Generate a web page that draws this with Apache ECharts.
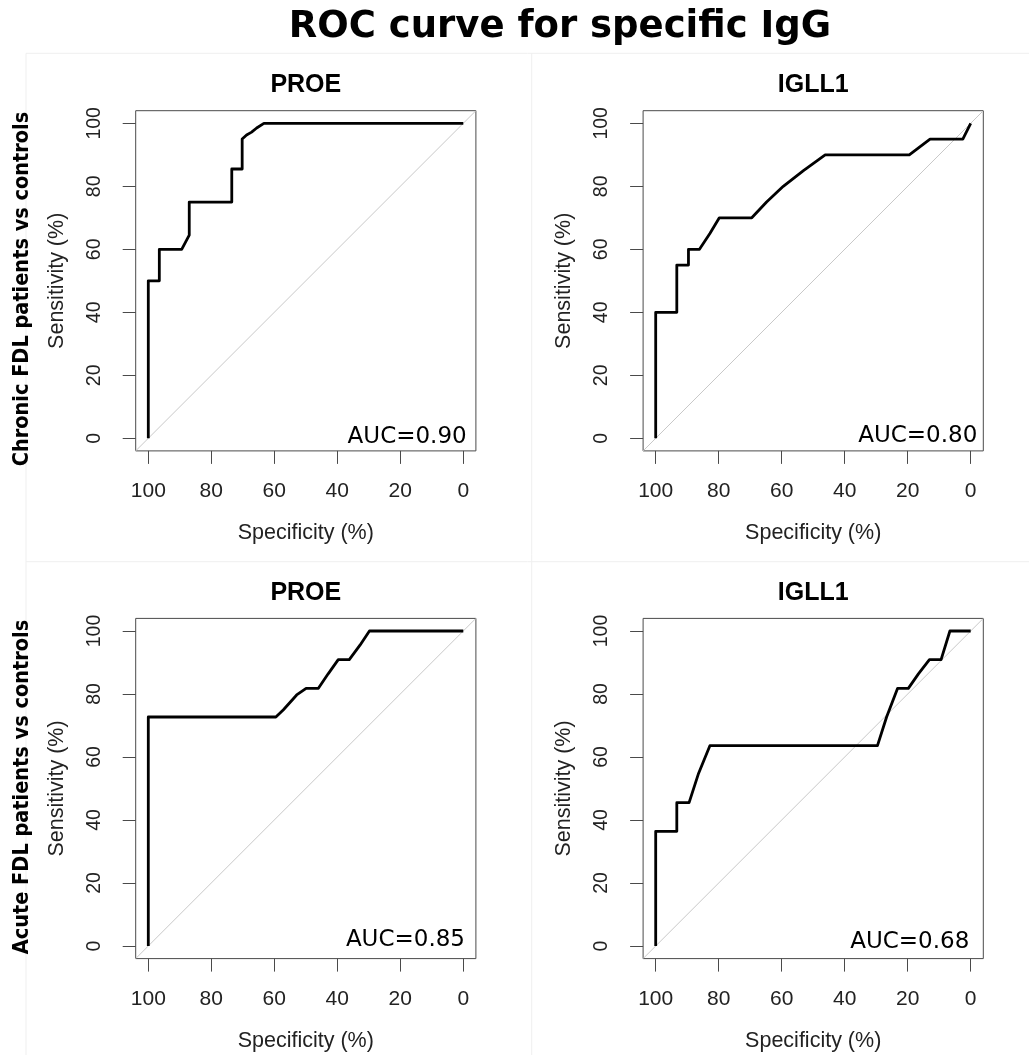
<!DOCTYPE html>
<html><head><meta charset="utf-8">
<script src="https://cdn.jsdelivr.net/npm/echarts@6/dist/echarts.min.js"></script>
<style>html,body{margin:0;padding:0;background:#fff}#c{width:1029px;height:1055px}</style>
</head><body><div id="c"></div>
<script>
// ---------- data ----------
const mainTitle = 'ROC curve for specific IgG';
const rowLabels = ['Chronic FDL patients vs controls', 'Acute FDL patients vs controls'];
const panelTitles = ['PROE', 'IGLL1', 'PROE', 'IGLL1'];
const aucLabels = ['AUC=0.90', 'AUC=0.80', 'AUC=0.85', 'AUC=0.68'];
const tickValues = [0, 20, 40, 60, 80, 100];
const xName = 'Specificity (%)';
const yName = 'Sensitivity (%)';

const specChronicPROE = [100, 100, 96.5, 96.5, 89.4, 87.0, 87.0, 73.5, 73.5, 70.2, 70.2, 68.8, 67.2, 65.6, 63.3, 0];
const sensChronicPROE = [0, 50, 50, 60, 60, 64.5, 75, 75, 85.5, 85.5, 95, 96.3, 97.2, 98.5, 100, 100];

const specChronicIGLL1 = [100, 100, 93.3, 93.3, 89.6, 89.6, 86.1, 82.8, 79.8, 69.5, 64.8, 59.5, 53.1, 46.2, 19.5, 12.9, 2.5, 0];
const sensChronicIGLL1 = [0, 40, 40, 55, 55, 60, 60, 65, 70, 70, 75, 80, 85, 90, 90, 95, 95, 100];

const specAcutePROE = [100, 100, 59.5, 57.1, 52.9, 49.9, 46.0, 42.9, 39.7, 36.2, 32.8, 29.8, 0];
const sensAcutePROE = [0, 72.7, 72.7, 75.0, 79.7, 81.8, 81.8, 86.4, 90.9, 90.9, 95.5, 100, 100];

const specAcuteIGLL1 = [100, 100, 93.3, 93.3, 89.4, 86.5, 82.8, 29.6, 26.7, 23.2, 19.8, 16.6, 13.1, 9.4, 6.6, 0];
const sensAcuteIGLL1 = [0, 36.4, 36.4, 45.5, 45.5, 54.5, 63.6, 63.6, 72.7, 81.8, 81.8, 86.4, 90.9, 90.9, 100, 100];

const diagSpec = [104, -4];
const diagSens = [-4, 104];

// ---------- layout ----------
const panels = [
  { left: 135.7, top: 110.7, spec: specChronicPROE, sens: sensChronicPROE, aucX: 466.7, aucY: 436.7 },
  { left: 643.1, top: 110.7, spec: specChronicIGLL1, sens: sensChronicIGLL1, aucX: 977.3, aucY: 435.7 },
  { left: 135.7, top: 618.4, spec: specAcutePROE, sens: sensAcutePROE, aucX: 465.0, aucY: 940.0 },
  { left: 643.1, top: 618.4, spec: specAcuteIGLL1, sens: sensAcuteIGLL1, aucX: 969.3, aucY: 941.7 }
];
const SIZE = 340.2;
const axisFont = 'Liberation Sans, Arial, sans-serif';
const zip = (a, b) => a.map((v, i) => [v, b[i]]);

const grids = [], xAxes = [], yAxes = [], series = [], graphics = [];

// faint panel borders
const faint = '#efefef';
[[26, 53.3, 1029, 53.3], [26, 561.7, 1029, 561.7], [531.7, 53.3, 531.7, 1055], [26, 53.3, 26, 1055]].forEach(s => {
  graphics.push({ type: 'line', silent: true, z: -10, shape: { x1: s[0], y1: s[1], x2: s[2], y2: s[3] }, style: { stroke: faint, lineWidth: 1 } });
});

panels.forEach((p, i) => {
  grids.push({ left: p.left, top: p.top, width: SIZE, height: SIZE, show: true, borderColor: '#4a4a4a', borderWidth: 1, backgroundColor: 'transparent', containLabel: false });
  xAxes.push({
    gridIndex: i, type: 'value', inverse: true, min: -4, max: 104, position: 'bottom',
    axisLine: { show: false, onZero: false }, splitLine: { show: false },
    axisTick: { show: true, length: 13, customValues: tickValues, lineStyle: { color: '#4a4a4a', width: 1 } },
    axisLabel: { customValues: tickValues, margin: 30, fontSize: 21, color: '#222', fontFamily: axisFont },
    name: xName, nameLocation: 'middle', nameGap: 71,
    nameTextStyle: { fontSize: 21.5, color: '#222', fontFamily: axisFont }
  });
  yAxes.push({
    gridIndex: i, type: 'value', min: -4, max: 104, position: 'left',
    axisLine: { show: false, onZero: false }, splitLine: { show: false },
    axisTick: { show: true, length: 13, customValues: tickValues, lineStyle: { color: '#4a4a4a', width: 1 } },
    axisLabel: { customValues: tickValues, margin: 31, rotate: 90, fontSize: 19.5, color: '#222', fontFamily: axisFont },
    name: yName, nameLocation: 'middle', nameGap: 68,
    nameTextStyle: { fontSize: 21.5, color: '#222', fontFamily: axisFont }
  });
  series.push({
    type: 'line', xAxisIndex: i, yAxisIndex: i, data: zip(diagSpec, diagSens),
    showSymbol: false, silent: true, z: 1, lineStyle: { color: '#c8c8c8', width: 1 }
  });
  series.push({
    type: 'line', xAxisIndex: i, yAxisIndex: i, data: zip(p.spec, p.sens),
    showSymbol: false, z: 3, lineStyle: { color: '#000', width: 2.8, join: 'round' }
  });
  graphics.push({
    type: 'text', x: p.left + SIZE / 2, y: p.top - 25.5,
    style: { text: panelTitles[i], fontSize: 25, fontWeight: 'bold', fontFamily: axisFont, fill: '#000', textAlign: 'center', textVerticalAlign: 'middle', align: 'center', verticalAlign: 'middle' }
  });
  graphics.push({
    type: 'text', x: p.aucX, y: p.aucY,
    style: { text: aucLabels[i], fontSize: 23, fontFamily: 'DejaVu Sans', fill: '#000', textAlign: 'right', textVerticalAlign: 'middle', align: 'right', verticalAlign: 'middle' }
  });
});

graphics.push({
  type: 'text', x: 560, y: 27,
  style: { text: mainTitle, fontSize: 37, fontWeight: 'bold', fontFamily: 'DejaVu Sans', fill: '#000', textAlign: 'center', textVerticalAlign: 'middle', align: 'center', verticalAlign: 'middle' }
});
[[22.5, 289], [22.5, 787]].forEach((pos, i) => {
  graphics.push({
    type: 'text', x: pos[0], y: pos[1], rotation: Math.PI / 2,
    style: { text: rowLabels[i], fontSize: 21.5, fontWeight: 'bold', fontFamily: "'DejaVu Sans Condensed', 'DejaVu Sans'", fill: '#000', textAlign: 'center', textVerticalAlign: 'middle', align: 'center', verticalAlign: 'middle' }
  });
});

const chart = echarts.init(document.getElementById('c'), null, { renderer: 'canvas' });
chart.setOption({
  animation: false,
  backgroundColor: '#fff',
  grid: grids, xAxis: xAxes, yAxis: yAxes, series: series, graphic: graphics
});
</script>
</body></html>
